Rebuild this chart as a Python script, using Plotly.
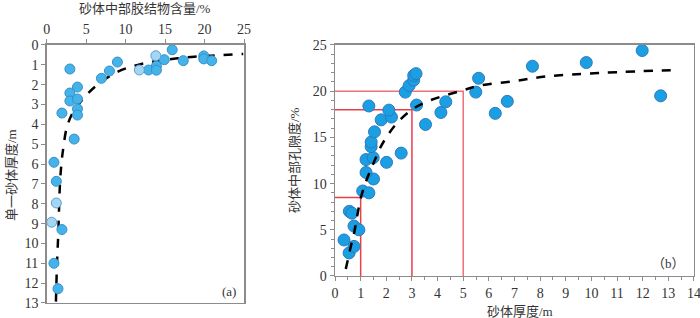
import plotly.graph_objects as go

# ---------- Chart (a) data ----------
a_cement_dark = [2.94, 0.92, 1.93, 2.94, 2.94, 3.9, 3.9, 3.9, 3.9, 3.48, 6.93, 7.95, 8.96,
                 12.9, 13.9, 13.9, 14.9, 15.9, 17.3, 19.9, 19.9, 20.9,
                 1.22, 1.93, 0.92, 1.43]
a_thick_dark = [1.21, 5.91, 3.43, 2.42, 2.82, 2.12, 2.72, 3.22, 3.53, 4.74, 1.68, 1.31, 0.86,
                1.26, 1.06, 1.27, 0.74, 0.24, 0.79, 0.55, 0.7, 0.79,
                6.87, 9.3, 11.0, 12.28]
a_cement_light = [11.74, 13.83, 1.22, 0.63]
a_thick_light = [1.26, 0.54, 7.96, 8.93]
a_fit_x = [1.17, 1.3, 1.47, 1.68, 1.89, 2.1, 2.52, 3.15, 3.99, 5.25, 6.93, 9.03, 11.55, 14.07, 16.6, 18.7, 21.5, 24.9]
a_fit_y = [12.93, 11.1, 9.49, 7.0, 5.88, 5.2, 4.2, 3.53, 3.02, 2.43, 1.85, 1.34, 1.0, 0.8, 0.67, 0.59, 0.52, 0.45]

# ---------- Chart (b) data ----------
b_thick = [0.35, 0.55, 0.74, 0.56, 0.66, 0.74, 0.93, 1.08, 1.32, 1.5, 1.21,
           1.21, 1.49, 2.01, 2.58, 1.41, 1.41, 1.54, 1.8, 2.2, 2.1, 1.32,
           2.74, 2.89, 3.07, 3.07, 3.16, 3.18, 3.53, 4.13, 4.32, 5.49, 5.6,
           6.25, 6.72, 7.7, 9.8, 11.98, 12.7]
b_poro = [3.9, 2.5, 3.2, 7.0, 6.8, 5.4, 5.0, 9.2, 9.0, 10.5, 11.2,
          12.6, 12.8, 12.3, 13.3, 14.0, 14.5, 15.6, 16.9, 17.2, 17.95, 18.4,
          19.9, 20.6, 21.2, 21.7, 21.9, 18.5, 16.4, 17.7, 18.85, 19.9, 21.4,
          17.6, 18.9, 22.7, 23.1, 24.4, 19.5]
b_fit_x = [0.42, 0.6, 0.74, 1.02, 1.3, 1.5, 1.75, 2.0, 2.4, 3.0, 3.7, 4.87, 5.64, 7.0, 8.24, 10.5, 13.4]
b_fit_y = [0.75, 3.0, 4.6, 8.6, 10.9, 12.2, 13.8, 15.0, 16.5, 18.0, 19.0, 20.0, 20.6, 21.1, 21.6, 22.0, 22.3]
guide_x = [1, 3, 5]
guide_y = [8.5, 18, 20]
guide_colors = ["#e8404a", "#e8404a", "#f0707a"]

FONT = "Liberation Serif, Noto Sans CJK SC"
GRAY = "#8c8c8c"

fig = go.Figure()

# (a) traces
fig.add_trace(go.Scatter(x=a_fit_x, y=a_fit_y, mode="lines", line=dict(color="black", width=2.5, dash="dash", shape="spline"),
                         xaxis="x", yaxis="y", showlegend=False, hoverinfo="skip"))
fig.add_trace(go.Scatter(x=a_cement_dark, y=a_thick_dark, mode="markers",
                         marker=dict(size=10, color="#43b3ea", line=dict(color="#3a8fc8", width=1)),
                         xaxis="x", yaxis="y", showlegend=False))
fig.add_trace(go.Scatter(x=a_cement_light, y=a_thick_light, mode="markers",
                         marker=dict(size=10, color="#a4d6f3", line=dict(color="#5a9fd0", width=1)),
                         xaxis="x", yaxis="y", showlegend=False))

# (b) guide lines
for gx, gy, gc in zip(guide_x, guide_y, guide_colors):
    fig.add_trace(go.Scatter(x=[0, gx, gx], y=[gy, gy, 0], mode="lines",
                             line=dict(color=gc, width=1.5), xaxis="x2", yaxis="y2",
                             showlegend=False, hoverinfo="skip"))
fig.add_trace(go.Scatter(x=b_thick, y=b_poro, mode="markers",
                         marker=dict(size=12, color="#1aa0e2", line=dict(color="#2f78be", width=1)),
                         xaxis="x2", yaxis="y2", showlegend=False))
fig.add_trace(go.Scatter(x=b_fit_x, y=b_fit_y, mode="lines", line=dict(color="black", width=2.5, dash="dash", shape="spline"),
                         xaxis="x2", yaxis="y2", showlegend=False, hoverinfo="skip"))

tickfont = dict(family=FONT, size=14, color="#333333")
common = dict(showgrid=False, zeroline=False, showline=True, linecolor=GRAY, linewidth=1.5,
              mirror=True, ticks="outside", ticklen=4, tickcolor=GRAY, tickfont=tickfont,
              automargin=False, ticklabeloverflow="allow")

def ann(text, px, py, angle=0):
    return dict(text=text, x=px / 700, y=1 - py / 318, xref="paper", yref="paper", showarrow=False,
                textangle=angle, font=dict(family=FONT, size=13, color="#333333"),
                xanchor="center", yanchor="middle")

fig.update_layout(
    width=700, height=318,
    margin=dict(l=0, r=0, t=0, b=0),
    paper_bgcolor="white", plot_bgcolor="white",
    font=dict(family=FONT, color="#333333"),
    xaxis=dict(domain=[0.0667, 0.3486], range=[0, 25], dtick=5, side="top", anchor="y", **common),
    yaxis=dict(domain=[0.0472, 0.8585], range=[13, 0], dtick=1, anchor="x", **common),
    xaxis2=dict(domain=[0.4786, 0.9914], range=[0, 14], dtick=1, anchor="y2",
                minor=dict(dtick=0.5, ticks="outside", ticklen=3, tickcolor=GRAY), **common),
    yaxis2=dict(domain=[0.1321, 0.8585], range=[0, 25], dtick=5, anchor="x2",
                minor=dict(dtick=1, ticks="outside", ticklen=3, tickcolor=GRAY), **common),
    annotations=[
        ann("砂体中部胶结物含量/%", 145, 9),
        ann("单一砂体厚度/m", 11, 175, -90),
        ann("(a)", 229, 291),
        ann("砂体中部孔隙度/%", 294, 160, -90),
        ann("砂体厚度/m", 520, 311),
        ann("（b）", 668, 263),
    ],
)

fig.write_html("out.html",
               config={"displayModeBar": False, "staticPlot": True},
               post_script="document.body.style.margin='0';document.body.style.padding='0';"
                           "document.body.style.overflow='hidden';")
